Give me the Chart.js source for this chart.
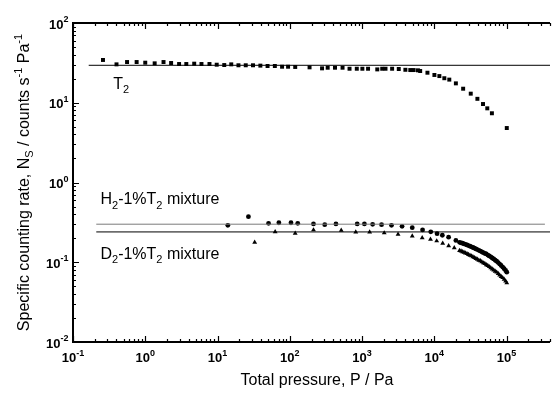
<!DOCTYPE html>
<html>
<head>
<meta charset="utf-8">
<script src="https://cdn.jsdelivr.net/npm/chart.js@4"></script>
<style>
  body { margin: 0; background: #fff; }
  canvas { display: block; }
</style>
</head>
<body>
<canvas id="chart" width="554" height="393"></canvas>
<script>
// pressure (Pa) and specific counting rate for pure T2
const t2P = [0.26, 0.40, 0.56, 0.76, 1.0, 1.35, 1.79, 2.28, 2.94, 3.70, 4.76, 6.0, 7.74, 9.75, 12.4,
  15.5, 19.5, 24.6, 31, 39.2, 49.3, 62.2, 78.3, 94.8, 119, 188, 280, 335, 423, 538, 672, 847, 1012,
  1213, 1627, 1905, 2115, 2612, 3227, 3985, 4660, 5185, 5945, 6385, 8050, 10050, 11770, 13790,
  16150, 19920, 25120, 32000, 39550, 47300, 54200, 62800, 100900];
const t2Rate = [34.4, 30.3, 32.4, 32.4, 31.8, 31.2, 32.4, 31.5, 30.6, 30.6, 30.9, 30.6, 30.6, 30.0, 29.7,
  30.3, 29.5, 29.5, 29.5, 29.2, 28.9, 28.9, 28.3, 28.3, 28.1, 27.8, 27.0, 27.5, 27.5, 27.5, 26.7, 26.7, 26.7,
  26.7, 26.2, 26.7, 26.7, 26.7, 26.5, 25.9, 25.7, 25.7, 25.5, 25.0, 23.8, 22.3, 21.6, 20.3,
  19.5, 17.5, 15.0, 13.0, 11.2, 9.64, 8.51, 7.38, 4.82];

// H2 - 1% T2 mixture
const h2P = [13.9, 26.8, 50.9, 70.7, 104, 129, 213, 305, 436, 858, 1080, 1403, 1865, 2560, 3585, 4960,
  6890, 8950, 10940, 12940, 15800, 19920,
  22400, 23500, 24600, 25800, 27000, 28400, 29700, 31200, 32700, 34300, 36000, 37700, 39500, 41400,
  43500, 45500, 47800, 50100, 52500, 55100, 57700, 60500, 63400, 66500, 69800, 73100, 76700, 80400,
  84300, 88500, 92700, 97300, 100900];
const h2Rate = [0.290, 0.373, 0.308, 0.313, 0.313, 0.308, 0.302, 0.296, 0.302, 0.302, 0.302, 0.299, 0.296, 0.290, 0.282, 0.271,
  0.254, 0.241, 0.228, 0.218, 0.206, 0.188,
  0.178, 0.175, 0.173, 0.170, 0.168, 0.165, 0.162, 0.159, 0.156, 0.153, 0.150, 0.147, 0.144, 0.141,
  0.138, 0.135, 0.132, 0.129, 0.127, 0.123, 0.120, 0.117, 0.113, 0.110, 0.106, 0.103, 0.099, 0.095,
  0.091, 0.087, 0.083, 0.079, 0.075];

// D2 - 1% T2 mixture
const d2P = [32.7, 62.8, 119, 213, 516, 820, 1276, 2030, 3155, 4960, 6810, 8870, 10810, 13090, 15820, 18920,
  22400, 23500, 24600, 25800, 27000, 28400, 29700, 31200, 32700, 34300, 36000, 37700, 39500, 41400,
  43500, 45500, 47800, 50100, 52500, 55100, 57700, 60500, 63400, 66500, 69800, 73100, 76700, 80400,
  84300, 88500, 92700, 97300, 100900];
const d2Rate = [0.178, 0.241, 0.231, 0.254, 0.251, 0.239, 0.239, 0.233, 0.224, 0.213, 0.203, 0.194, 0.185, 0.173, 0.161, 0.152,
  0.140, 0.138, 0.135, 0.133, 0.130, 0.128, 0.125, 0.122, 0.120, 0.117, 0.114, 0.111, 0.109, 0.106,
  0.104, 0.101, 0.098, 0.096, 0.093, 0.091, 0.088, 0.085, 0.082, 0.080, 0.077, 0.075, 0.072, 0.069,
  0.066, 0.064, 0.061, 0.058, 0.055];

// reference levels (horizontal lines): [startP, endP], rate
const t2LineP = [0.165, 4e5];  const t2Level = 29.5;
const h2LineP = [0.21, 3.4e5]; const h2Level = 0.30;
const d2LineP = [0.21, 4e5];   const d2Level = 0.24;

// axis decades
const xTickExp = [-1, 0, 1, 2, 3, 4, 5];
const yTickExp = [-2, -1, 0, 1, 2];

const FONT = '"Liberation Sans", Arial, Helvetica, sans-serif';
const TXT = 16;

function pts(xs, ys) { return xs.map((v, i) => ({x: v, y: ys[i]})); }

// text pieces with sub/superscripts
function richWidth(ctx, parts, size) {
  let w = 0;
  parts.forEach(p => {
    ctx.font = (p.s ? Math.round(size * 0.68) : size) + 'px ' + FONT;
    w += ctx.measureText(p.t).width;
  });
  return w;
}
function drawRich(ctx, parts, x, y, size) {
  parts.forEach(p => {
    const sz = p.s ? Math.round(size * 0.68) : size;
    ctx.font = sz + 'px ' + FONT;
    let dy = 0;
    if (p.s === 'sub') dy = size * 0.28;
    if (p.s === 'sup') dy = -size * 0.42;
    ctx.fillText(p.t, x, y + dy);
    x += ctx.measureText(p.t).width;
  });
}

const frame = {
  id: 'frame',
  afterDraw(chart) {
    const {ctx, chartArea: a, scales: {x, y}} = chart;
    ctx.save();
    ctx.strokeStyle = '#000';
    ctx.fillStyle = '#000';

    // ticks, pointing inward
    ctx.lineWidth = 1.2;
    ctx.beginPath();
    xTickExp.forEach(e => {
      for (let k = 1; k <= 9; k++) {
        const v = k * Math.pow(10, e);
        if (v > x.max) break;
        const px = Math.round(x.getPixelForValue(v)) + 0.5;
        const len = k === 1 ? 6 : 3;
        ctx.moveTo(px, a.bottom); ctx.lineTo(px, a.bottom - len);
        ctx.moveTo(px, a.top); ctx.lineTo(px, a.top + len);
      }
    });
    yTickExp.forEach(e => {
      for (let k = 1; k <= 9; k++) {
        const v = k * Math.pow(10, e);
        if (v > y.max) break;
        const py = Math.round(y.getPixelForValue(v)) + 0.5;
        const len = k === 1 ? 6 : 3;
        ctx.moveTo(a.left, py); ctx.lineTo(a.left + len, py);
      }
    });
    ctx.stroke();

    // axis lines
    ctx.lineWidth = 2;
    ctx.beginPath();
    ctx.moveTo(a.right, a.top); ctx.lineTo(a.left, a.top);
    ctx.lineTo(a.left, a.bottom); ctx.lineTo(a.right, a.bottom);
    ctx.stroke();

    // tick labels 10^n
    const bigF = 'bold 13px ' + FONT, smallF = 'bold 9px ' + FONT;
    ctx.textAlign = 'left';
    ctx.textBaseline = 'alphabetic';
    xTickExp.forEach(e => {
      const px = x.getPixelForValue(Math.pow(10, e));
      ctx.font = bigF; const wb = ctx.measureText('10').width;
      ctx.font = smallF; const we = ctx.measureText(String(e)).width;
      const left = px - (wb + we) / 2;
      ctx.font = bigF; ctx.fillText('10', left, a.bottom + 19.7);
      ctx.font = smallF; ctx.fillText(String(e), left + wb, a.bottom + 13.7);
    });
    yTickExp.forEach(e => {
      const py = y.getPixelForValue(Math.pow(10, e));
      ctx.font = bigF; const wb = ctx.measureText('10').width;
      ctx.font = smallF; const we = ctx.measureText(String(e)).width;
      const right = a.left - 4.5;
      ctx.font = bigF; ctx.fillText('10', right - we - wb, py + 5.5);
      ctx.font = smallF; ctx.fillText(String(e), right - we, py - 1);
    });

    // axis titles
    const xt = [{t: 'Total pressure, P / Pa'}];
    const xw = richWidth(ctx, xt, TXT);
    drawRich(ctx, xt, 317 - xw / 2, 385, TXT);

    const yt = [{t: 'Specific counting rate, N'}, {t: 'S', s: 'sub'}, {t: ' / counts s'}, {t: '-1', s: 'sup'},
      {t: ' Pa'}, {t: '-1', s: 'sup'}];
    const yw = richWidth(ctx, yt, TXT);
    ctx.save();
    ctx.translate(29, (a.top + a.bottom) / 2);
    ctx.rotate(-Math.PI / 2);
    drawRich(ctx, yt, -yw / 2, 0, TXT);
    ctx.restore();

    // series labels
    drawRich(ctx, [{t: 'T'}, {t: '2', s: 'sub'}], x.getPixelForValue(0.36), y.getPixelForValue(15.0), TXT);
    drawRich(ctx, [{t: 'H'}, {t: '2', s: 'sub'}, {t: '-1%T'}, {t: '2', s: 'sub'}, {t: ' mixture'}],
      x.getPixelForValue(0.24), y.getPixelForValue(0.537), TXT);
    drawRich(ctx, [{t: 'D'}, {t: '2', s: 'sub'}, {t: '-1%T'}, {t: '2', s: 'sub'}, {t: ' mixture'}],
      x.getPixelForValue(0.24), y.getPixelForValue(0.11), TXT);

    ctx.restore();
  }
};

function levelLine(xs, level, color) {
  return {
    type: 'line',
    data: xs.map(v => ({x: v, y: level})),
    borderColor: color,
    borderWidth: 1,
    pointRadius: 0,
    fill: false
  };
}

new Chart(document.getElementById('chart'), {
  type: 'scatter',
  data: {
    datasets: [
      levelLine(t2LineP, t2Level, '#000'),
      levelLine(h2LineP, h2Level, '#7a7a7a'),
      levelLine(d2LineP, d2Level, '#000'),
      { label: 'T2', data: pts(t2P, t2Rate), pointStyle: 'rect', pointRadius: 2.8,
        backgroundColor: '#000', borderColor: '#000', borderWidth: 0 },
      { label: 'H2-1%T2', data: pts(h2P, h2Rate), pointStyle: 'circle', pointRadius: 2.4,
        backgroundColor: '#000', borderColor: '#000', borderWidth: 0 },
      { label: 'D2-1%T2', data: pts(d2P, d2Rate), pointStyle: 'triangle', pointRadius: 2.8,
        backgroundColor: '#000', borderColor: '#000', borderWidth: 0 }
    ]
  },
  options: {
    responsive: false,
    animation: false,
    layout: { padding: { left: 73, top: 23, right: 0, bottom: 51 } },
    plugins: { legend: { display: false }, tooltip: { enabled: false } },
    scales: {
      x: { type: 'logarithmic', min: 0.1, max: 4e5, display: false },
      y: { type: 'logarithmic', min: 0.01, max: 100, display: false }
    }
  },
  plugins: [frame]
});
</script>
</body>
</html>
